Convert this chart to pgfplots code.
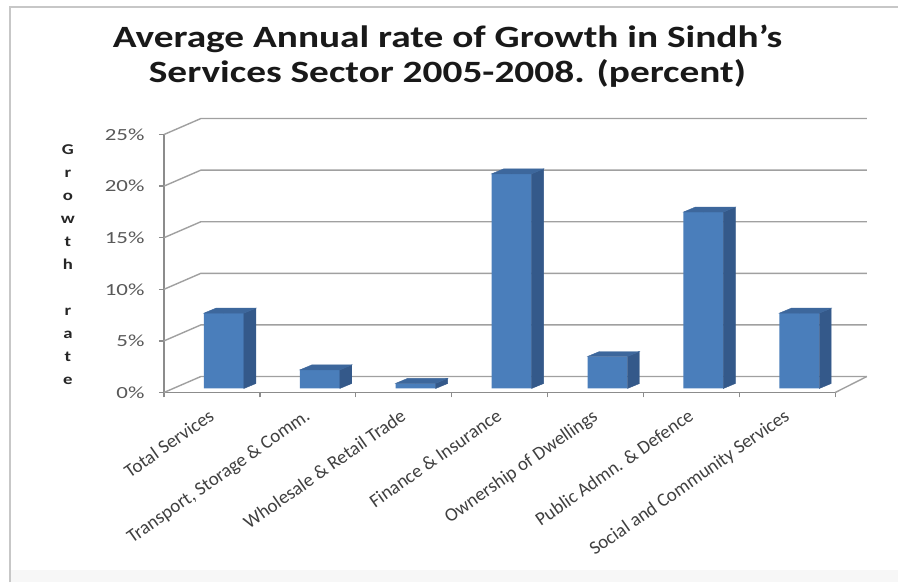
\documentclass[border=0pt]{standalone}
\usepackage{pgfplots}
\pgfplotsset{compat=1.18}
\usepackage{pgfplotstable}
\usepackage{fontspec}
\setmainfont{Carlito}
\definecolor{barfront}{HTML}{4A7EBB}
\definecolor{barside}{HTML}{34598A}
\definecolor{bartop}{HTML}{3D679C}
\definecolor{gridc}{HTML}{A0A0A0}
\definecolor{axisc}{HTML}{8C8C8C}
\definecolor{labc}{HTML}{404040}
\definecolor{ylabc}{HTML}{595959}
\pgfplotstableread{
x v
0 7.3
1 1.8
2 0.5
3 20.8
4 3.1
5 17.1
6 7.3
}\datatab
\begin{document}
\begin{tikzpicture}[x=1pt,y=1pt]
\fill[white] (0,0) rectangle (899,583);
\fill[black!3] (10,0) rectangle (899,12);
\draw[black!22, line width=2pt] (10,0) -- (10,576) -- (899,576);
\node[font=\fontsize{31}{35}\selectfont\bfseries, anchor=base, text=black!90, inner sep=0pt] at (448,535)
  {\scalebox{1.27}[1]{Average Annual rate of Growth in Sindh’s}};
\node[font=\fontsize{31}{35}\selectfont\bfseries, anchor=base, text=black!90, inner sep=0pt] at (448,500)
  {\scalebox{1.27}[1]{Services Sector 2005-2008. (percent)}};
\node[font=\fontsize{15}{23}\selectfont\bfseries, align=center, text=black!85] at (68,318)
  {\scalebox{1.25}[1]{G}\\\scalebox{1.25}[1]{r}\\\scalebox{1.25}[1]{o}\\\scalebox{1.25}[1]{w}\\\scalebox{1.25}[1]{t}\\\scalebox{1.25}[1]{h}\\\mbox{}\\\scalebox{1.25}[1]{r}\\\scalebox{1.25}[1]{a}\\\scalebox{1.25}[1]{t}\\\scalebox{1.25}[1]{e}};
\begin{axis}[
  at={(171,184)}, anchor=origin,
  x=96pt, y=10.33pt,
  xmin=0, xmax=7, ymin=0, ymax=25,
  axis x line*=bottom, axis y line*=left,
  axis line style={axisc, line width=1.3pt},
  clip=false,
  xtick={0.5,1.5,...,6.5},
  xticklabels={Total Services, {Transport, Storage \& Comm.}, Wholesale \& Retail Trade, Finance \& Insurance, Ownership of Dwellings, Public Admn. \& Defence, Social and Community Services},
  ytick={0,5,...,25},
  yticklabel={\scalebox{1.35}[1]{\pgfmathprintnumber{\tick}\%}},
  minor xtick={0,1,...,7}, minor ytick={0,5,...,25},
  major tick length=0pt, minor tick length=5pt, tick align=outside,
  minor tick style={axisc, line width=1.3pt},
  yticklabel style={font=\fontsize{17}{20}\selectfont, text=ylabc, anchor=east, xshift=-16pt},
  xticklabel style={font=\fontsize{19}{22}\selectfont, text=labc, xshift=-4pt, yshift=-14pt, rotate=35, anchor=north east, inner sep=1pt},
  /pgf/number format/assume math mode=true,
]
\pgfplotsinvokeforeach{0,5,10,15,20,25}{
  \draw[gridc, line width=1.4pt] (axis cs:0,#1) -- (axis cs:0.385,{#1+1.55}) -- (axis cs:7.33,{#1+1.55});
}
\draw[gridc, line width=1.4pt] (axis cs:7,0) -- (axis cs:7.33,1.55);
\addplot[scatter, only marks, mark=*, mark size=0pt, xshift=12pt, yshift=4pt,
  visualization depends on={rawy \as \val},
  scatter/@pre marker code/.code={%
    \pgfmathsetlengthmacro\h{\val*10.33pt}%
    \fill[barside] (20pt,0pt) -- (32pt,5pt) -- (32pt,{5pt-\h}) -- (20pt,-\h) -- cycle;
    \fill[bartop] (-20pt,0pt) -- (20pt,0pt) -- (32pt,5pt) -- (-8pt,5pt) -- cycle;
    \scope},
  scatter/@post marker code/.code={\endscope},
] table[x expr=\thisrow{x}+0.5, y=v] {\datatab};
\addplot[ybar, bar width=40pt, fill=barfront, draw=none, xshift=12pt, yshift=4pt]
  table[x expr=\thisrow{x}+0.5, y=v] {\datatab};
\end{axis}
\end{tikzpicture}
\end{document}
